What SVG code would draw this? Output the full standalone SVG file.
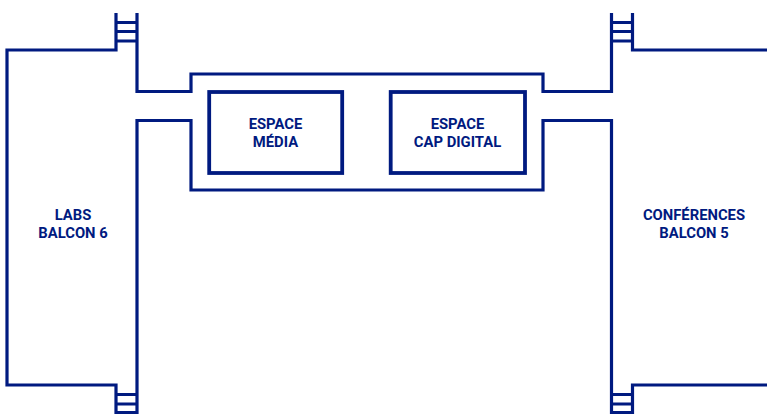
<svg xmlns="http://www.w3.org/2000/svg" width="767" height="414" viewBox="0 0 767 414">
<style>
.l{fill:none;stroke:#001a80;stroke-width:3.200}
.r{fill:none;stroke:#001a80;stroke-width:3.800}
.t{font-family:"Roboto","Liberation Sans",sans-serif;font-weight:700;font-size:14.800px;fill:#001a80;text-anchor:middle}
</style>
<rect width="767" height="414" fill="#fff"/>
<g id="connectors">
<path class="l" d="M137 13V91.500H191V74H543V91.500H611.500V13"/>
<path class="l" d="M137 414V120.500H191V190H543V120.500H611.500V414"/>
</g>
<g id="labs-balcon-6">
<path class="l" d="M116 13V50H7V385H116V414"/>
<path class="l" d="M116 22.500H137M116 31.500H137M116 41H137M116 394.500H137M116 404H137M116 412.500H137"/>
<text class="t" x="73" y="220">LABS</text>
<text class="t" x="73" y="238">BALCON 6</text>
</g>
<g id="conferences-balcon-5">
<path class="l" d="M632.500 13V50H767M767 385H632.500V414"/>
<path class="l" d="M611.500 22.500H632.500M611.500 31.500H632.500M611.500 41H632.500M611.500 394.500H632.500M611.500 404H632.500M611.500 412.500H632.500"/>
<text class="t" x="694" y="220">CONFÉRENCES</text>
<text class="t" x="694" y="238">BALCON 5</text>
</g>
<g id="espace-media">
<rect class="r" x="209.200" y="92" width="133" height="81"/>
<text class="t" x="275.500" y="129">ESPACE</text>
<text class="t" x="275.500" y="147">MÉDIA</text>
</g>
<g id="espace-cap-digital">
<rect class="r" x="390.700" y="92" width="134.300" height="81"/>
<text class="t" x="457.500" y="129">ESPACE</text>
<text class="t" x="457.500" y="147">CAP DIGITAL</text>
</g>
</svg>
